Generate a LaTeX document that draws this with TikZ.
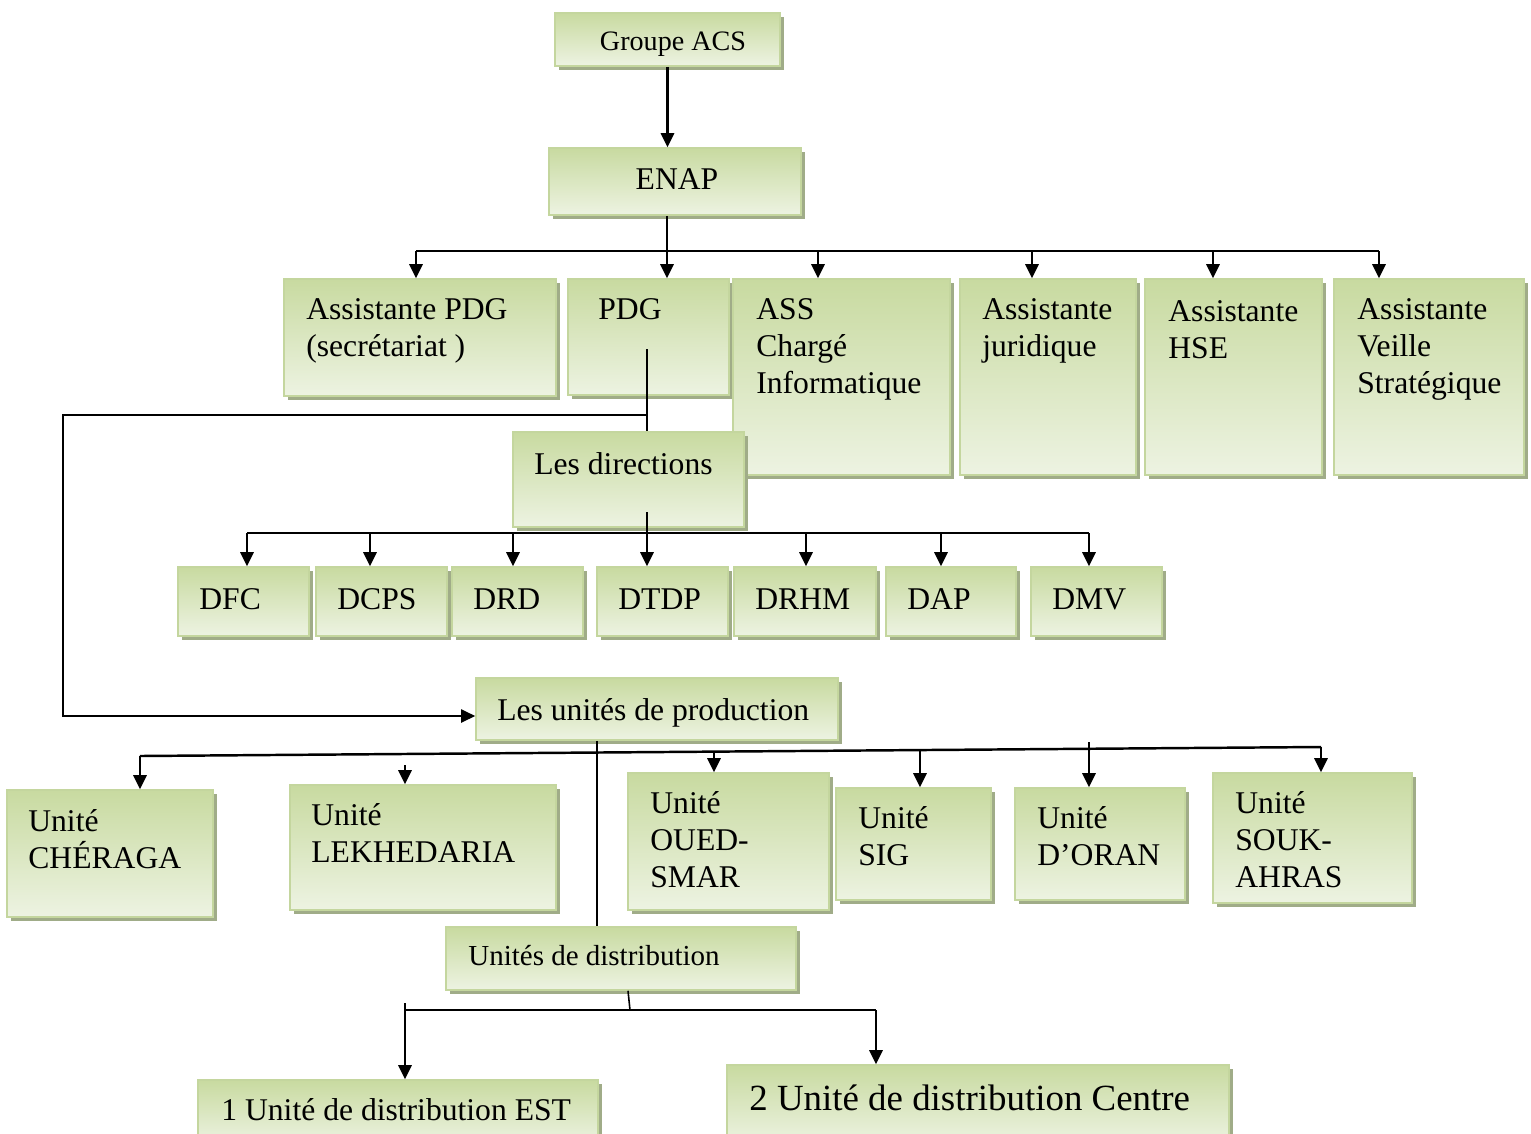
\documentclass[tikz,border=0pt]{standalone}
\usepackage{fontspec}
\setmainfont{Liberation Serif}
\usetikzlibrary{arrows.meta,fit,shadows}

\definecolor{boxtop}{RGB}{200,218,160}
\definecolor{boxbot}{RGB}{237,243,226}
\definecolor{boxline}{RGB}{196,214,158}
\definecolor{boxshadow}{RGB}{160,172,136}

\begin{document}
\begin{tikzpicture}[
            x=0.02cm, y=-0.02cm,
            box/.style = {
                draw=boxline, line width=0.9pt, inner sep=0pt,
                top color=boxtop, bottom color=boxbot,
                drop shadow={shadow xshift=2.2pt, shadow yshift=-2.2pt,
                             fill=boxshadow, opacity=1}
            },
            txt/.style = {
                inner sep=0pt, anchor=base west, align=left,
                font=\fontsize{18}{21}\selectfont
            },
            bus/.style = {line width=1.4pt},
            stem/.style = {line width=0.9pt},
            arr/.style = {
                line width=1.4pt,
                -{Triangle[length=8pt, width=7.5pt]}
            }
            ]
            \useasboundingbox (0,0) rectangle (1531,1133);

            % Nodes (text placed at the baseline of its last line)
            \node[box, fit={(555,13) (780,66)}] (acs) {};
            \node[txt, anchor=base, font=\fontsize{16}{19}\selectfont] (tacs) at (673,50) {Groupe ACS};
            \node[box, fit={(549,148) (801,215)}] (enap) {};
            \node[txt, anchor=base] (tenap) at (677,189) {ENAP};

            \node[box, fit={(284,279) (556,396)}] (apdg) {};
            \node[txt] (tapdg) at (306,356) {Assistante PDG\\(secrétariat )};
            \node[box, fit={(568,279) (729,395)}] (pdg) {};
            \node[txt] (tpdg) at (598,319) {PDG};
            \node[box, fit={(733,279) (950,475)}] (info) {};
            \node[txt] (tinfo) at (756,393) {ASS\\Chargé\\Informatique};
            \node[box, fit={(960,279) (1136,475)}] (jur) {};
            \node[txt] (tjur) at (982,356) {Assistante\\juridique};
            \node[box, fit={(1145,279) (1322,475)}] (hse) {};
            \node[txt] (thse) at (1168,358) {Assistante\\HSE};
            \node[box, fit={(1334,279) (1524,475)}] (veille) {};
            \node[txt] (tveille) at (1357,393) {Assistante\\Veille\\Stratégique};

            \node[box, fit={(513,432) (744,527)}] (dir) {};
            \node[txt] (tdir) at (534,474) {Les directions};

            \node[box, fit={(476,678) (838,740)}] (prod) {};
            \node[txt] (tprod) at (497,720) {Les unités de production};

            \node[box, fit={(7,790) (213,917)}] (cher) {};
            \node[txt] (tcher) at (28,868) {Unité\\CHÉRAGA};
            \node[box, fit={(290,785) (556,910)}] (lek) {};
            \node[txt] (tlek) at (311,862) {Unité\\LEKHEDARIA};
            \node[box, fit={(628,773) (829,910)}] (oued) {};
            \node[txt] (toued) at (650,887) {Unité\\OUED-\\SMAR};
            \node[box, fit={(836,788) (991,900)}] (sig) {};
            \node[txt] (tsig) at (858,865) {Unité\\SIG};
            \node[box, fit={(1015,788) (1185,900)}] (oran) {};
            \node[txt] (toran) at (1037,865) {Unité\\D’ORAN};
            \node[box, fit={(1213,773) (1412,903)}] (souk) {};
            \node[txt] (tsouk) at (1235,887) {Unité\\SOUK-\\AHRAS};

            \node[box, fit={(446,927) (796,990)}] (dist) {};
            \node[txt, font=\fontsize{16.5}{19}\selectfont] (tdist) at (468,965) {Unités de distribution};
            \node[box, fit={(198,1080) (598,1145)}] (est) {};
            \node[txt] (test) at (221,1120) {1 Unité de distribution EST};
            \node[box, fit={(727,1065) (1229,1145)}] (centre) {};
            \node[txt, font=\fontsize{21}{24}\selectfont] (tcentre) at (749,1110) {2 Unité de distribution Centre};

            % Directions
            \foreach \n/\l/\r/\t/\x in {dfc/178/309/DFC/247, dcps/316/447/DCPS/370,
                    drd/452/583/DRD/513, dtdp/597/728/DTDP/647, drhm/734/876/DRHM/806,
                    dap/886/1016/DAP/941, dmv/1031/1162/DMV/1089} {
                \node[box, fit={(\l,567) (\r,636)}] (\n) {};
                \node[txt] (t\n) at (\l+21,609) {\t};
                \draw[arr] (\x,533) -- (\x,0 |- \n.north);
            }

            % Links
            \coordinate (bus1) at (667,251);
            \coordinate (pdgtail) at (647,349);
            \coordinate (pdgsplit) at (647,415);
            \coordinate (dirtail) at (647,512);
            \coordinate (bus2) at (647,533);

            \draw[arr] (acs.south) -- (enap.north -| acs.south);
            \draw[bus] (enap.south -| bus1) -- (bus1);
            \draw[bus] (416,251) -- (1379,251);
            \foreach \n/\x in {apdg/416, pdg/667, info/818, jur/1032, hse/1213, veille/1379}
                \draw[arr] (\x,251) -- (\x,0 |- \n.north);

            \draw[stem] (pdgtail) -- (pdgtail |- dir.north);
            \draw[stem, -{Triangle[length=8pt, width=7.5pt]}]
                (pdgsplit) -- (63,415) -- (63,716) -- (prod.west |- 0,716);

            \draw[bus] (dirtail) -- (bus2);
            \draw[bus] (247,533) -- (1089,533);

            \draw[stem] (prod.south -| 597,0) -- (dist.north -| 597,0);
            \draw[bus] (140,756) -- (1321,747);
            \foreach \n/\x/\y in {cher/140/756, lek/405/765, oued/714/751.6,
                    sig/920/750, oran/1089/742, souk/1321/747}
                \draw[arr] (\x,\y) -- (\n.north -| \x,0);

            \draw[stem] (dist.south -| 628,0) -- (630,1010);
            \draw[bus] (405,1010) -- (876,1010);
            \draw[arr] (405,1003) -- (est.north -| 405,0);
            \draw[arr] (876,1010) -- (centre.north -| 876,0);
        \end{tikzpicture}
\end{document}
